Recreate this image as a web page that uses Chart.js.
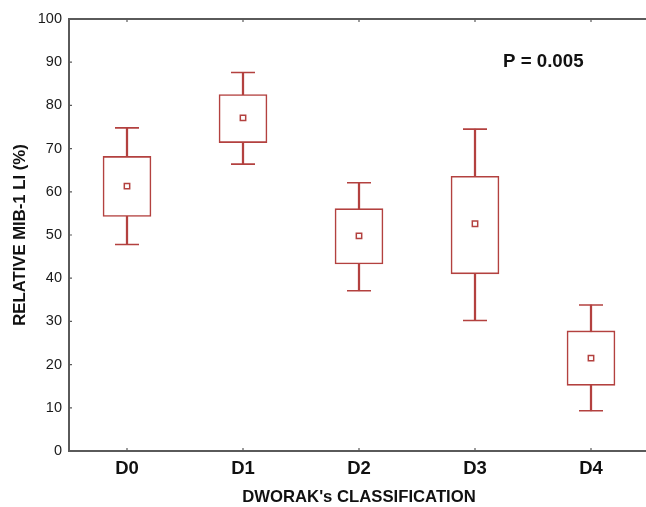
<!DOCTYPE html>
<html>
<head>
<meta charset="utf-8">
<script src="https://cdn.jsdelivr.net/npm/chart.js@4/dist/chart.umd.min.js"></script>
<style>
html,body{margin:0;padding:0;background:#fff;overflow:hidden;width:646px;height:507px;}
#wrap{width:652px;height:507px;position:absolute;left:0;top:0;}
canvas{display:block;width:652px;height:507px;}
</style>
</head>
<body>
<div id="wrap"><canvas id="c" width="652" height="507"></canvas></div>
<script>
const categories = ['D0','D1','D2','D3','D4'];
const whiskerLow  = [47.8, 66.4, 37.1, 30.2, 9.3];
const boxLow      = [54.3, 71.4, 43.3, 41.0, 15.2];
const centerValue = [61.3, 77.1, 49.8, 52.6, 21.5];
const boxHigh     = [68.2, 82.5, 56.1, 63.6, 27.8];
const whiskerHigh = [74.8, 87.6, 62.1, 74.5, 33.8];
const yTicks = [0,10,20,30,40,50,60,70,80,90,100];
const pLabel = 'P = 0.005';

const RED = '#b3413f';
const AXIS = '#5a5a5a';
const FONT = '"Liberation Sans", Arial, sans-serif';

const frame = {
  id: 'frame',
  afterDraw(chart) {
    const {ctx, chartArea: a, scales} = chart;
    ctx.save();
    ctx.strokeStyle = AXIS;
    ctx.lineWidth = 2;
    ctx.beginPath();
    ctx.moveTo(a.left - 1, a.top);
    ctx.lineTo(a.right + 2, a.top);
    ctx.stroke();
    ctx.lineWidth = 1.2;
    ctx.beginPath();
    scales.x.ticks.forEach((t, i) => {
      const px = scales.x.getPixelForTick(i);
      ctx.moveTo(px, a.bottom); ctx.lineTo(px, a.bottom - 3);
      ctx.moveTo(px, a.top); ctx.lineTo(px, a.top + 3);
    });
    scales.y.ticks.forEach((t, i) => {
      const py = scales.y.getPixelForTick(i);
      ctx.moveTo(a.left, py); ctx.lineTo(a.left + 3, py);
    });
    ctx.stroke();
    ctx.fillStyle = '#111';
    ctx.font = 'bold 18.7px ' + FONT;
    ctx.textBaseline = 'middle';
    ctx.textAlign = 'left';
    ctx.fillText(pLabel, 503, 62);
    ctx.restore();
  }
};

new Chart(document.getElementById('c'), {
  type: 'bar',
  data: {
    labels: categories,
    datasets: [
      {
        type: 'line',
        data: centerValue,
        showLine: false,
        pointStyle: 'rect',
        pointRadius: 3.8,
        pointBorderWidth: 1.5,
        pointBorderColor: RED,
        pointBackgroundColor: '#fff',
        order: 0
      },
      {
        type: 'line',
        data: whiskerHigh,
        showLine: false,
        pointStyle: 'line',
        pointRadius: 12,
        pointBorderWidth: 1.6,
        pointBorderColor: RED,
        order: 0
      },
      {
        type: 'line',
        data: whiskerLow,
        showLine: false,
        pointStyle: 'line',
        pointRadius: 12,
        pointBorderWidth: 1.6,
        pointBorderColor: RED,
        order: 0
      },
      {
        data: categories.map((c, i) => [boxLow[i], boxHigh[i]]),
        backgroundColor: '#ffffff',
        borderColor: RED,
        borderWidth: 1.6,
        borderSkipped: false,
        barThickness: 48,
        grouped: false,
        order: 1
      },
      {
        data: categories.map((c, i) => [whiskerLow[i], whiskerHigh[i]]),
        backgroundColor: RED,
        borderWidth: 0,
        barThickness: 1.6,
        grouped: false,
        order: 2
      }
    ]
  },
  options: {
    responsive: false,
    animation: false,
    layout: { autoPadding: false, padding: { top: 19, right: 3, left: 0, bottom: 0 } },
    plugins: { legend: { display: false }, tooltip: { enabled: false } },
    scales: {
      x: {
        offset: true,
        grid: { display: false, drawTicks: false },
        border: { color: AXIS, width: 2 },
        ticks: {
          color: '#111',
          padding: 7,
          font: { family: FONT, size: 18.5, weight: 'bold' }
        },
        title: {
          display: true,
          text: "DWORAK's CLASSIFICATION",
          color: '#111',
          padding: { top: 0, bottom: 0 },
          font: { family: FONT, size: 16.7, weight: 'bold' }
        },
        afterFit(s) { s.height = 56; }
      },
      y: {
        min: 0, max: 100,
        afterBuildTicks(s) { s.ticks = yTicks.map(v => ({ value: v })); },
        grid: { display: false, drawTicks: false },
        border: { color: AXIS, width: 2 },
        ticks: {
          color: '#1a1a1a',
          padding: 7,
          font: { family: FONT, size: 14.5 }
        },
        title: {
          display: true,
          text: 'RELATIVE MIB-1 LI (%)',
          color: '#111',
          padding: { top: 10, bottom: 0 },
          font: { family: FONT, size: 16.7, weight: 'bold' }
        },
        afterFit(s) { s.width = 69; }
      }
    }
  },
  plugins: [frame]
});
</script>
</body>
</html>
